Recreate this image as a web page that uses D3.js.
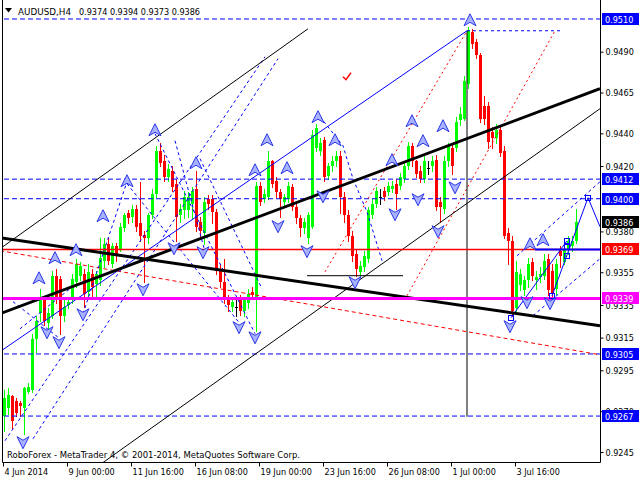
<!DOCTYPE html>
<html><head><meta charset="utf-8">
<script src="https://cdn.jsdelivr.net/npm/d3@7"></script>
<style>
body{margin:0;background:#fff}
svg{display:block}
text{font-family:"DejaVu Sans Condensed","DejaVu Sans",sans-serif;font-size:9px;fill:#000}
</style></head>
<body><svg id="c" width="640" height="480"></svg>
<script>
// ---------- DATA ----------
const symbol = "AUDUSD,H4";
const lastOHLC = [0.9374, 0.9394, 0.9373, 0.9386];
const open  = [.9267,.9272,.9279,.9276,.9275,.9272,.9282,.9283,.9314,.9330,.9339,.9324,.9328,.9353,.9351,.9328,.9335,.9339,.9349,.9353,.9354,.9343,.9354,.9348,.9350,.9362,.9372,.9360,.9371,.9369,.9382,.9391,.9389,.9394,.9385,.9378,.9376,.9390,.9403,.9429,.9423,.9413,.9417,.9409,.9390,.9393,.9393,.9397,.9406,.9386,.9379,.9400,.9400,.9392,.9357,.9349,.9339,.9334,.9334,.9339,.9331,.9336,.9343,.9340,.9408,.9400,.9401,.9423,.9411,.9404,.9398,.9400,.9407,.9395,.9388,.9382,.9376,.9383,.9431,.9429,.9436,.9414,.9420,.9423,.9426,.9401,.9390,.9377,.9366,.9355,.9358,.9363,.9390,.9397,.9401,.9405,.9404,.9406,.9409,.9408,.9412,.9420,.9432,.9423,.9417,.9412,.9419,.9420,.9424,.9398,.9394,.9423,.9431,.9431,.9448,.9449,.9470,.9502,.9496,.9488,.9457,.9457,.9441,.9437,.9442,.9429,.9379,.9374,.9333,.9347,.9344,.9350,.9361,.9350,.9352,.9353,.9363,.9356,.9345,.9368,.9361,.9369,.9371,.9374];
const high  = [.9283,.9284,.9280,.9278,.9276,.9285,.9287,.9317,.9328,.9345,.9340,.9333,.9356,.9357,.9353,.9339,.9340,.9354,.9363,.9361,.9357,.9360,.9357,.9356,.9376,.9376,.9376,.9373,.9373,.9385,.9391,.9393,.9396,.9396,.9410,.9380,.9391,.9406,.9432,.9434,.9427,.9421,.9420,.9412,.9397,.9405,.9404,.9407,.9417,.9389,.9401,.9402,.9402,.9394,.9360,.9363,.9341,.9340,.9339,.9341,.9340,.9345,.9346,.9410,.9410,.9406,.9429,.9424,.9413,.9406,.9403,.9410,.9409,.9397,.9390,.9388,.9392,.9442,.9446,.9437,.9438,.9422,.9426,.9429,.9429,.9404,.9393,.9380,.9369,.9362,.9368,.9395,.9400,.9407,.9406,.9407,.9410,.9411,.9412,.9416,.9423,.9435,.9434,.9424,.9420,.9426,.9423,.9426,.9427,.9401,.9426,.9434,.9433,.9450,.9456,.9475,.9505,.9504,.9498,.9489,.9463,.9459,.9444,.9446,.9444,.9432,.9382,.9377,.9362,.9357,.9353,.9364,.9364,.9356,.9358,.9366,.9366,.9360,.9363,.9371,.9372,.9377,.9377,.9394];
const low   = [.9258,.9268,.9259,.9267,.9267,.9256,.9281,.9282,.9306,.9325,.9323,.9320,.9327,.9336,.9317,.9325,.9333,.9336,.9346,.9350,.9334,.9340,.9340,.9340,.9347,.9358,.9360,.9358,.9362,.9368,.9380,.9385,.9386,.9380,.9374,.9349,.9373,.9388,.9401,.9420,.9411,.9411,.9405,.9374,.9386,.9388,.9389,.9388,.9380,.9377,.9372,.9394,.9385,.9354,.9346,.9336,.9331,.9331,.9328,.9329,.9328,.9333,.9339,.9319,.9396,.9398,.9400,.9407,.9401,.9389,.9395,.9398,.9393,.9385,.9377,.9379,.9373,.9382,.9429,.9427,.9411,.9412,.9417,.9420,.9391,.9386,.9374,.9362,.9353,.9353,.9356,.9361,.9388,.9395,.9397,.9399,.9402,.9404,.9394,.9406,.9410,.9418,.9420,.9413,.9410,.9410,.9415,.9417,.9393,.9386,.9391,.9420,.9415,.9429,.9445,.9448,.9468,.9492,.9486,.9447,.9446,.9431,.9431,.9434,.9426,.9376,.9360,.9328,.9331,.9344,.9341,.9346,.9350,.9345,.9349,.9351,.9341,.9339,.9342,.9358,.9360,.9366,.9368,.9373];
const close = [.9278,.9280,.9264,.9269,.9273,.9284,.9285,.9314,.9325,.9339,.9325,.9330,.9353,.9339,.9328,.9334,.9337,.9351,.9360,.9359,.9342,.9355,.9346,.9354,.9364,.9372,.9362,.9371,.9365,.9383,.9390,.9388,.9394,.9383,.9377,.9376,.9390,.9403,.9429,.9422,.9413,.9418,.9407,.9389,.9394,.9401,.9401,.9405,.9383,.9380,.9398,.9397,.9392,.9356,.9349,.9338,.9335,.9337,.9334,.9331,.9338,.9342,.9341,.9408,.9398,.9403,.9423,.9409,.9404,.9400,.9401,.9408,.9395,.9388,.9382,.9386,.9390,.9439,.9443,.9434,.9413,.9420,.9423,.9426,.9401,.9390,.9377,.9365,.9357,.9359,.9365,.9393,.9397,.9405,.9401,.9401,.9408,.9408,.9403,.9413,.9420,.9432,.9423,.9415,.9412,.9423,.9419,.9423,.9395,.9395,.9423,.9432,.9420,.9447,.9452,.9472,.9503,.9495,.9488,.9449,.9449,.9435,.9437,.9442,.9428,.9377,.9374,.9331,.9355,.9354,.9350,.9360,.9353,.9352,.9354,.9362,.9344,.9342,.9360,.9365,.9369,.9374,.9374,.9386];

const timeTickBars   = [0,16,32,48,64,80,96,112,128];
const timeTickLabels = ["4 Jun 2014","9 Jun 00:00","11 Jun 16:00","16 Jun 08:00","19 Jun 00:00","23 Jun 16:00","26 Jun 08:00","1 Jul 00:00","3 Jul 16:00"];
const priceTicks = [0.9490,0.9465,0.9440,0.9420,0.9380,0.9355,0.9335,0.9315,0.9295,0.9270,0.9245];

const blueLevels = [0.9510,0.9412,0.9400,0.9305,0.9267];
const redLevel = 0.9369;
const magentaLevel = 0.9339;

// trend objects as [bar, price] points
const thickBlackLines = [
  [[-1,0.93761],[149,0.93223]],
  [[-1,0.93296],[149,0.94673]]
];
const thinBlackLines = [
  [[-1,0.93694],[76,0.95040]],
  [[21.5,0.92329],[149,0.94551]],
  [[75.75,0.93529],[99.75,0.93529]],
  [[115.75,0.95028],[115.75,0.92666]]
];
const blueSolidLines = [
  [[-1,0.93064],[115.75,0.95028]],
  [[126.75,0.93272],[140.75,0.93743]],
  [[137,0.93406],[146,0.94006]],
  [[146,0.94006],[149,0.93829]]
];
const blueThickLines = [
  [[132.75,0.9369],[149,0.9369]]
];
const redDashedLines = [
  [[-1,0.93682],[149,0.93045]]
];
const redDottedLines = [
  [[80.25,0.93553],[115.75,0.95028]],
  [[100.75,0.93406],[137.75,0.95028]]
];
const blueDashedLines = [
  [[115.75,0.95028],[139,0.95028]],
  [[0.25,0.92519],[65.25,0.94869]],
  [[7.25,0.92531],[68.5,0.94857]],
  [[2.25,0.93370],[14,0.93143]],
  [[4,0.93204],[16.5,0.93449]],
  [[19.75,0.93296],[30.75,0.94104]],
  [[37.75,0.94398],[62.75,0.93174]],
  [[30.75,0.94092],[59,0.93235]],
  [[49,0.94245],[64.5,0.93449]],
  [[42.75,0.94355],[50.25,0.93676]],
  [[79,0.94502],[84.75,0.94324],[87.25,0.94122],[90.75,0.93920],[94.5,0.93621]],
  [[128.25,0.93651],[149,0.94104]],
  [[132.25,0.93284],[149,0.93633]]
];
const arrowsUp = [[8.75,0.93510],[12.75,0.93633],[18,0.93682],[24.75,0.93890],[30.75,0.94104],[37.75,0.94416],[48,0.94214],[62.75,0.94171],[65.75,0.94355],[70.75,0.94184],[78.5,0.94496],[82.75,0.94355],[97,0.94233],[102,0.94471],[104.75,0.94349],[109.75,0.94441],[116.5,0.95089],[131.5,0.93718],[134.75,0.93743]];
const arrowsDown = [[4.75,0.92513],[10.75,0.93186],[13.75,0.93125],[19.75,0.93296],[34.75,0.93449],[42.5,0.93700],[49.75,0.93676],[58.75,0.93217],[62.75,0.93155],[68.5,0.93835],[75.75,0.93682],[79.75,0.94018],[87.75,0.93492],[97.75,0.93908],[103.5,0.94000],[108.5,0.93804],[112.75,0.94073],[126.5,0.93223],[130.75,0.93370],[136.5,0.93364]];
const squares = [[126.75,0.93272],[137,0.93406],[140.75,0.93743],[140.75,0.93706],[140.75,0.93651],[146,0.94006]];
const checkMark = [85.75,0.94747];
const copyright = "RoboForex - MetaTrader 4, \u00A9 2001-2014, MetaQuotes Software Corp.";

// ---------- DRAW ----------
const svg = d3.select("#c");
const L = 2, R = 600, T = 0, B = 462;
const x = d3.scaleLinear().domain([0, 143]).range([4, 576]);
const y = d3.scaleLinear().domain([0.9245, 0.9510]).range([452, 19]);

svg.append("defs").append("clipPath").attr("id","clip")
  .append("rect").attr("x",L).attr("y",T).attr("width",R-L).attr("height",B-T);

const plot = svg.append("g").attr("clip-path","url(#clip)");

// candles
const idx = d3.range(open.length);
const colorOf = i => close[i] > open[i] ? "#00ff00" : (close[i] < open[i] ? "#ff0000" : "#000000");
plot.append("g").selectAll("line").data(idx).join("line")
  .attr("x1", i => Math.round(x(i)) + 0.5).attr("x2", i => Math.round(x(i)) + 0.5)
  .attr("y1", i => Math.round(y(high[i]))).attr("y2", i => Math.round(y(low[i])) + 1)
  .attr("stroke", colorOf).attr("stroke-width", 1);
plot.append("g").selectAll("rect").data(idx).join("rect")
  .attr("x", i => Math.round(x(i)) - 1)
  .attr("width", 3)
  .attr("y", i => Math.round(y(Math.max(open[i], close[i]))))
  .attr("height", i => Math.max(1, Math.round(y(Math.min(open[i], close[i]))) - Math.round(y(Math.max(open[i], close[i])))))
  .attr("fill", colorOf);

const lineGen = d3.line().x(d => x(d[0])).y(d => y(d[1]));
function drawLines(arr, stroke, width, dash) {
  plot.append("g").selectAll("path").data(arr).join("path")
    .attr("d", lineGen).attr("fill","none").attr("stroke", stroke)
    .attr("stroke-width", width).attr("stroke-dasharray", dash || null);
}

// horizontal levels
const hl = p => [[-2, p],[150, p]];
drawLines(blueLevels.map(hl), "#0000ff", 1, "5,3");
drawLines(redDashedLines, "#ff0000", 1, "4,3");
drawLines(redDottedLines, "#ff0000", 1, "2,3");
drawLines(blueDashedLines, "#0000ff", 1, "3,3");
drawLines(thinBlackLines, "#000000", 1);
drawLines(blueSolidLines, "#0000ff", 1);
drawLines([hl(redLevel)], "#ff0000", 1.5);
drawLines(thickBlackLines, "#000000", 3);
drawLines([hl(magentaLevel)], "#ff00ff", 3);
drawLines(blueThickLines, "#0000ff", 2);

// squares
plot.append("g").selectAll("rect").data(squares).join("rect")
  .attr("x", d => Math.round(x(d[0])) - 2.5).attr("y", d => Math.round(y(d[1])) - 2.5)
  .attr("width", 5).attr("height", 5).attr("fill","none").attr("stroke","#0000ff").attr("stroke-width",1);

// arrows
const upShape = "M0,-7 L6,5 L0,1.5 L-6,5 Z";
const downShape = "M0,7 L6,-5 L0,-1.5 L-6,-5 Z";
plot.append("g").selectAll("path").data(arrowsUp).join("path")
  .attr("transform", d => `translate(${x(d[0])},${y(d[1])})`)
  .attr("d", upShape).attr("fill","#a8b2ff").attr("stroke","#2a36e8").attr("stroke-width",1);
plot.append("g").selectAll("path").data(arrowsDown).join("path")
  .attr("transform", d => `translate(${x(d[0])},${y(d[1])})`)
  .attr("d", downShape).attr("fill","#a8b2ff").attr("stroke","#2a36e8").attr("stroke-width",1);

// check mark
plot.append("path")
  .attr("transform", `translate(${x(checkMark[0])},${y(checkMark[1])})`)
  .attr("d","M-4,0 L-1,3 L4,-4").attr("fill","none").attr("stroke","#ff0000").attr("stroke-width",1.5);

// frame
svg.append("path").attr("d",`M${L+0.5},${T} V${B+0.5} H${R+0.5} V${T}`).attr("fill","none").attr("stroke","#000").attr("stroke-width",1);

// price axis
const yAxis = d3.axisRight(y).tickValues(priceTicks).tickSize(3).tickPadding(2).tickFormat(d3.format(".4f"));
const ya = svg.append("g").attr("transform",`translate(${R+0.5},0)`).call(yAxis);
ya.select(".domain").remove();
ya.selectAll("text").attr("font-size",null).attr("font-family",null).attr("dy","0.35em");

// time axis
const xAxis = d3.axisBottom(x).tickValues(timeTickBars).tickSize(4)
  .tickFormat((d,k) => timeTickLabels[k]);
const xa = svg.append("g").attr("transform",`translate(-1,${B+0.5})`).call(xAxis);
xa.select(".domain").remove();
xa.selectAll("text").attr("text-anchor","start").attr("x",1).attr("y",6).attr("dy","0.71em")
  .attr("font-size",null).attr("font-family",null);

// price tags (drawn over the axis labels they hide, as in the terminal)
const tags = [
  [blueLevels[0], "#0000ff", "#fff"],
  [blueLevels[1], "#0000ff", "#fff"],
  [blueLevels[2], "#0000ff", "#fff"],
  [lastOHLC[3], "#000000", "#fff"],
  [redLevel, "#ff0000", "#fff"],
  [magentaLevel, "#ff00ff", "#fff"],
  [blueLevels[3], "#0000ff", "#fff"],
  [blueLevels[4], "#0000ff", "#fff"]
];
const tg = svg.append("g").selectAll("g").data(tags).join("g")
  .attr("transform", d => `translate(602,${Math.round(y(d[0]))})`);
tg.append("rect").attr("x",0).attr("y",-6).attr("width",37).attr("height",12).attr("fill", d => d[1]);
tg.append("text").attr("x",3).attr("y",3.5).style("fill", d => d[2]).text(d => d3.format(".4f")(d[0]));

// header
svg.append("path").attr("d","M5,8 H12 L8.5,12.5 Z").attr("fill","#000");
svg.append("text").attr("x",18).attr("y",14.5).attr("textLength",53).attr("lengthAdjust","spacingAndGlyphs").text(symbol);
svg.append("text").attr("x",79).attr("y",14.5).attr("textLength",121).attr("lengthAdjust","spacing")
  .text(lastOHLC.map(d3.format(".4f")).join(" "));

// copyright
svg.append("text").attr("x",7).attr("y",458).attr("textLength",293).attr("lengthAdjust","spacingAndGlyphs").text(copyright);
</script>
</body></html>
